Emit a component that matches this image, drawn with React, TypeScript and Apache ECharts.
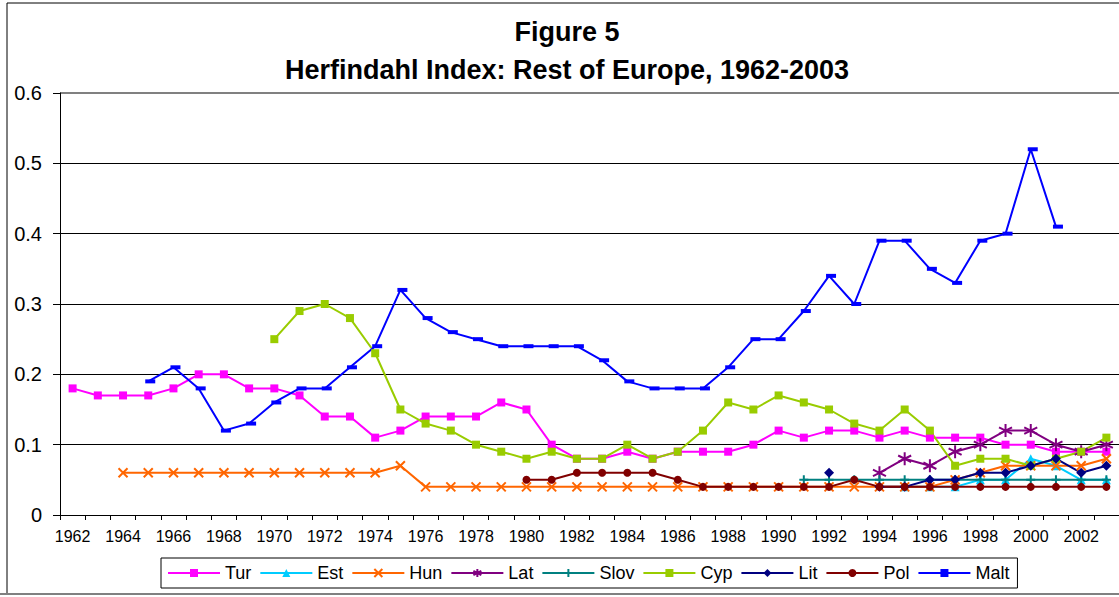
import React, { useEffect, useRef } from "react";
import * as echarts from "echarts";

const years: string[] = [];
for (let y = 1962; y <= 2003; y++) years.push(String(y));

const _ = null;
const tur = [0.18, 0.17, 0.17, 0.17, 0.18, 0.2, 0.2, 0.18, 0.18, 0.17, 0.14, 0.14, 0.11, 0.12, 0.14, 0.14, 0.14, 0.16, 0.15, 0.1, 0.08, 0.08, 0.09, 0.08, 0.09, 0.09, 0.09, 0.1, 0.12, 0.11, 0.12, 0.12, 0.11, 0.12, 0.11, 0.11, 0.11, 0.1, 0.1, 0.09, 0.09, 0.09];
const est = [_, _, _, _, _, _, _, _, _, _, _, _, _, _, _, _, _, _, _, _, _, _, _, _, _, _, _, _, _, _, _, _, _, 0.04, 0.04, 0.04, 0.05, 0.05, 0.08, 0.07, 0.05, 0.05];
const hun = [_, _, 0.06, 0.06, 0.06, 0.06, 0.06, 0.06, 0.06, 0.06, 0.06, 0.06, 0.06, 0.07, 0.04, 0.04, 0.04, 0.04, 0.04, 0.04, 0.04, 0.04, 0.04, 0.04, 0.04, 0.04, 0.04, 0.04, 0.04, 0.04, 0.04, 0.04, 0.04, 0.04, 0.04, 0.05, 0.06, 0.07, 0.07, 0.07, 0.07, 0.08];
const lat = [_, _, _, _, _, _, _, _, _, _, _, _, _, _, _, _, _, _, _, _, _, _, _, _, _, _, _, _, _, _, _, _, 0.06, 0.08, 0.07, 0.09, 0.1, 0.12, 0.12, 0.1, 0.09, 0.1];
const slov = [_, _, _, _, _, _, _, _, _, _, _, _, _, _, _, _, _, _, _, _, _, _, _, _, _, _, _, _, _, 0.05, 0.05, 0.05, 0.05, 0.05, 0.05, 0.05, 0.05, 0.05, 0.05, 0.05, 0.05, 0.05];
const cyp = [_, _, _, _, _, _, _, _, 0.25, 0.29, 0.3, 0.28, 0.23, 0.15, 0.13, 0.12, 0.1, 0.09, 0.08, 0.09, 0.08, 0.08, 0.1, 0.08, 0.09, 0.12, 0.16, 0.15, 0.17, 0.16, 0.15, 0.13, 0.12, 0.15, 0.12, 0.07, 0.08, 0.08, 0.07, 0.08, 0.09, 0.11];
const lit = [_, _, _, _, _, _, _, _, _, _, _, _, _, _, _, _, _, _, _, _, _, _, _, _, _, _, _, _, _, _, 0.06, _, 0.04, 0.04, 0.05, 0.05, 0.06, 0.06, 0.07, 0.08, 0.06, 0.07];
const pol = [_, _, _, _, _, _, _, _, _, _, _, _, _, _, _, _, _, _, 0.05, 0.05, 0.06, 0.06, 0.06, 0.06, 0.05, 0.04, 0.04, 0.04, 0.04, 0.04, 0.04, 0.05, 0.04, 0.04, 0.04, 0.04, 0.04, 0.04, 0.04, 0.04, 0.04, 0.04];
const malt = [_, _, _, 0.19, 0.21, 0.18, 0.12, 0.13, 0.16, 0.18, 0.18, 0.21, 0.24, 0.32, 0.28, 0.26, 0.25, 0.24, 0.24, 0.24, 0.24, 0.22, 0.19, 0.18, 0.18, 0.18, 0.21, 0.25, 0.25, 0.29, 0.34, 0.3, 0.39, 0.39, 0.35, 0.33, 0.39, 0.4, 0.52, 0.41, _, _];

const FONT = "'Liberation Sans', Arial, sans-serif";

const X_PATH = "path://M0,0L10,10M10,0L0,10";
const STAR_PATH = "path://M5,0L5,10M0.7,2.5L9.3,7.5M0.7,7.5L9.3,2.5";
const PLUS_PATH = "path://M5,0L5,10M0,5L10,5";

type Spec = { name: string; data: (number | null)[]; color: string; symbol: string; size: number | number[]; stroke?: boolean; offset?: number[] };

const specs: Spec[] = [
  { name: "Tur", data: tur, color: "#FF00FF", symbol: "rect", size: 8 },
  { name: "Est", data: est, color: "#00CCFF", symbol: "triangle", size: 9 },
  { name: "Hun", data: hun, color: "#FF6600", symbol: X_PATH, size: 9, stroke: true },
  { name: "Lat", data: lat, color: "#800080", symbol: STAR_PATH, size: 13, stroke: true },
  { name: "Slov", data: slov, color: "#008080", symbol: PLUS_PATH, size: 9, stroke: true },
  { name: "Cyp", data: cyp, color: "#99CC00", symbol: "rect", size: 8 },
  { name: "Lit", data: lit, color: "#000080", symbol: "diamond", size: 10 },
  { name: "Pol", data: pol, color: "#800000", symbol: "circle", size: 8 },
  { name: "Malt", data: malt, color: "#0000FF", symbol: "rect", size: [10, 4], offset: [2, 0] },
];

export default function App() {
  const ref = useRef<HTMLDivElement>(null);
  useEffect(() => {
    if (!ref.current) return;
    const chart = echarts.init(ref.current, undefined, { renderer: "svg" });
    const series = specs.map((s) => ({
      name: s.name,
      type: "line",
      data: s.data,
      symbol: s.symbol,
      symbolSize: s.size,
      symbolOffset: s.offset || [0, 0],
      showSymbol: true,
      showAllSymbol: true,
      connectNulls: false,
      lineStyle: { color: s.color, width: 2 },
      itemStyle: s.stroke
        ? { color: s.color, borderColor: s.color, borderWidth: 2 }
        : { color: s.color, borderWidth: 0 },
      color: s.color,
      emphasis: { disabled: true },
    }));
    chart.setOption({
      animation: false,
      textStyle: { fontFamily: FONT },
      grid: { left: 60, top: 93, width: 1061, height: 422, containLabel: false },
      legend: {
        left: 161,
        top: 558,
        data: specs.map((s) => s.name),
        itemWidth: 52,
        itemHeight: 10,
        itemGap: 8,
        padding: [6, 8, 6, 6],
        borderColor: "#000",
        borderWidth: 1,
        textStyle: { fontSize: 18, color: "#000", fontFamily: FONT },
        selectedMode: false,
      },
      xAxis: {
        type: "category",
        data: years,
        boundaryGap: true,
        axisLine: { lineStyle: { color: "#000", width: 1 } },
        axisTick: { show: true, interval: 0, length: 5, lineStyle: { color: "#000" } },
        axisLabel: { interval: 1, fontSize: 16, color: "#000", margin: 13, fontFamily: FONT },
        splitLine: { show: false },
      },
      yAxis: {
        type: "value",
        min: 0,
        max: 0.6,
        interval: 0.1,
        axisLine: { show: true, lineStyle: { color: "#000", width: 1 } },
        axisTick: { show: true, length: 7, lineStyle: { color: "#000" } },
        axisLabel: {
          fontSize: 20,
          color: "#000",
          margin: 18,
          fontFamily: FONT,
          formatter: (v: number) => (v === 0 ? "0" : String(Math.round(v * 10) / 10)),
        },
        splitLine: {
          show: true,
          lineStyle: { color: ["#000", "#000", "#000", "#000", "#000", "#000", "#808080"], width: 1 },
        },
      },
      graphic: [
        { type: "line", shape: { x1: 7, y1: 3, x2: 7, y2: 594 }, style: { stroke: "#000", lineWidth: 1 }, silent: true },
        { type: "line", shape: { x1: 7, y1: 3, x2: 1119, y2: 3 }, style: { stroke: "#000", lineWidth: 1 }, silent: true },
        { type: "line", shape: { x1: 0, y1: 594, x2: 1119, y2: 594 }, style: { stroke: "#808080", lineWidth: 2 }, silent: true },
        { type: "line", shape: { x1: 60, y1: 93, x2: 1119, y2: 93 }, style: { stroke: "#808080", lineWidth: 2 }, silent: true },
        {
          type: "text",
          x: 567,
          y: 32,
          style: { text: "Figure 5", font: `bold 27px ${FONT}`, fill: "#000", align: "center", verticalAlign: "middle" },
          silent: true,
        },
        {
          type: "text",
          x: 567,
          y: 70,
          style: {
            text: "Herfindahl Index: Rest of Europe, 1962-2003",
            font: `bold 27px ${FONT}`,
            fill: "#000",
            align: "center",
            verticalAlign: "middle",
          },
          silent: true,
        },
      ],
      series,
    });
    return () => chart.dispose();
  }, []);
  return (
    <div
      ref={ref}
      style={{ position: "absolute", left: 0, top: 0, width: 1119, height: 597, background: "#fff" }}
    />
  );
}
